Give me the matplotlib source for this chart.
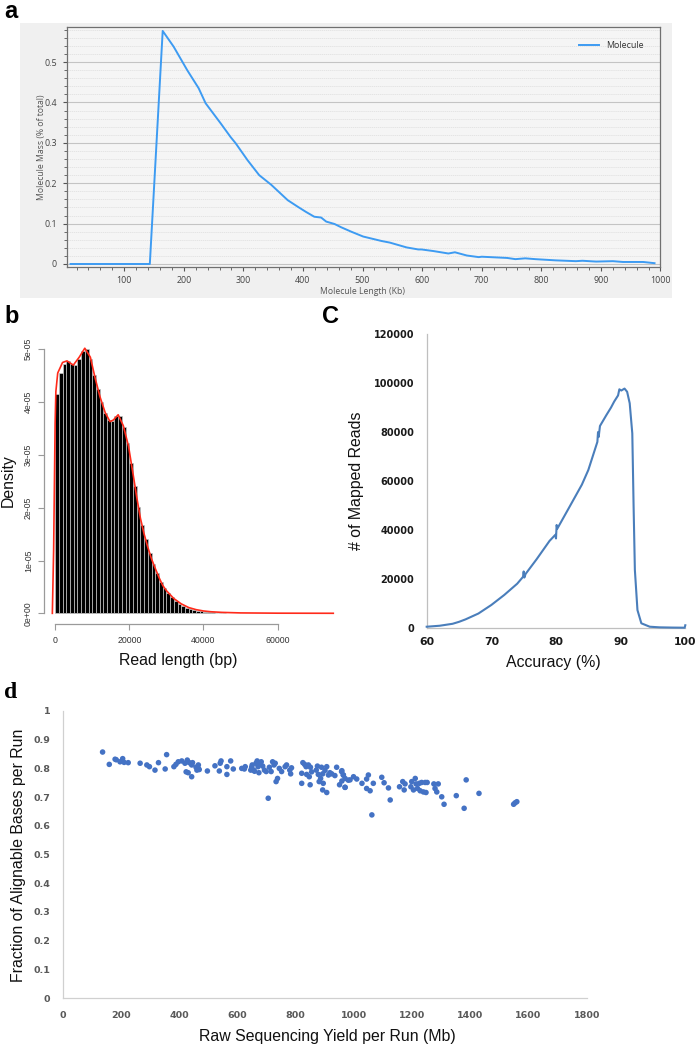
import matplotlib
matplotlib.use('Agg')
import matplotlib.pyplot as plt
import numpy as np
from matplotlib.patches import Rectangle
from matplotlib.ticker import MultipleLocator

plt.rcParams['font.family'] = ['Liberation Sans', 'DejaVu Sans']

# ---------------- data ----------------
# panel a: molecule length (Kb) vs molecule mass (% of total)
mol_len = [10, 60, 100, 143, 164.6, 183, 205.7, 225, 236.6, 262, 278.7, 287, 307, 326.5,
           346.8, 374.4, 391, 405, 419, 430.5, 439, 453, 464, 481, 501, 531.7, 545.7, 574,
           593.5, 599, 619, 644, 655, 675, 695, 700, 742.5, 756.5, 773, 790, 824, 858, 869,
           892, 920, 937, 971, 990]
mol_mass = [0.0, 0.0, 0.0, 0.0, 0.577, 0.538, 0.480, 0.435, 0.398, 0.348, 0.314, 0.299, 0.257,
            0.220, 0.196, 0.158, 0.142, 0.129, 0.117, 0.115, 0.105, 0.099, 0.091, 0.080,
            0.068, 0.057, 0.053, 0.041, 0.036, 0.036, 0.032, 0.026, 0.029, 0.021, 0.017,
            0.018, 0.015, 0.012, 0.014, 0.012, 0.009, 0.007, 0.008, 0.006, 0.007, 0.005,
            0.005, 0.002]

# panel b: read-length histogram (density, 1000 bp bins starting at 0)
bin_width = 1000
hist_density_e5 = [4.15, 4.55, 4.72, 4.77, 4.73, 4.71, 4.82, 4.97, 5.00, 4.82, 4.52, 4.25,
                   4.00, 3.80, 3.66, 3.65, 3.74, 3.74, 3.52, 3.22, 2.85, 2.42, 2.02, 1.68,
                   1.40, 1.15, 0.94, 0.76, 0.60, 0.48, 0.38, 0.30, 0.23, 0.18, 0.14, 0.11,
                   0.085, 0.065, 0.05, 0.04, 0.03, 0.024, 0.019, 0.015, 0.012, 0.010]
kde_x = [-750, -400, 0, 200, 700, 2000, 3200, 4900, 6500, 8000, 9500, 10800, 12100, 13500,
         14800, 15700, 17000, 18400, 19800, 21100, 22000, 23000, 24000, 25000, 26000, 27000,
         28000, 29000, 30000, 32000, 34000, 36000, 38000, 40000, 42000, 45000, 50000, 60000,
         75000]
kde_y_e5 = [0.0, 1.2, 3.6, 4.2, 4.55, 4.75, 4.78, 4.70, 4.85, 5.02, 4.85, 4.45, 4.10, 3.80,
            3.63, 3.66, 3.76, 3.55, 3.16, 2.60, 2.20, 1.80, 1.50, 1.25, 1.03, 0.85, 0.68,
            0.53, 0.43, 0.28, 0.18, 0.11, 0.07, 0.045, 0.03, 0.018, 0.008, 0.003, 0.001]

# panel c: accuracy (%) vs number of mapped reads
accuracy = [60, 62, 64, 65, 66, 68, 70, 72, 74, 74.9, 75.0, 75.1, 75.3, 77, 79, 79.9, 80.0,
            80.1, 80.2, 82, 84, 85, 86.4, 86.5, 86.6, 86.8, 87.8, 88.5, 89.0, 89.6, 89.8,
            90.1, 90.6, 91.0, 91.4, 91.8, 91.9, 92.0, 92.2, 92.6, 93.2, 94.5, 96, 98, 99.9,
            100]
mapped_reads = [400, 800, 1600, 2400, 3400, 5800, 9300, 13400, 18000, 20800, 23000, 20500,
                22000, 28000, 35500, 38000, 36500, 42000, 40500, 49000, 58500, 64500, 76000,
                80000, 78000, 82500, 87000, 90000, 92500, 95000, 97500, 97000, 97800, 96500,
                91800, 79500, 65000, 50000, 23600, 7200, 1800, 400, 150, 50, 0, 1000]

# panel d: raw sequencing yield per run (Mb) vs fraction of alignable bases
yield_mb = [137, 160, 180, 184, 197, 206, 211, 225, 266, 289, 298, 317, 329, 352, 357, 382,
            389, 397, 409, 420, 428, 435, 443, 446, 424, 431, 443, 458, 466, 466, 469, 461,
            497, 523, 541, 544, 538, 564, 564, 577, 586, 615, 624, 627, 646, 649, 651, 656,
            659, 664, 668, 671, 674, 676, 682, 687, 693, 699, 706, 710, 716, 721, 726, 730,
            733, 738, 744, 752, 764, 769, 780, 786, 783, 821, 825, 831, 836, 838, 844, 847,
            851, 855, 821, 850, 871, 875, 878, 881, 886, 889, 893, 895, 901, 893, 907, 907,
            913, 918, 924, 935, 941, 951, 958, 964, 970, 970, 981, 959, 964, 959, 970, 987,
            999, 1010, 1028, 1044, 1050, 1044, 1056, 1062, 1067, 1096, 1104, 1119, 1125,
            1157, 1168, 1173, 1176, 1196, 1199, 1205, 1211, 1214, 1219, 1225, 1228, 1233,
            1239, 1245, 1248, 1252, 1275, 1279, 1285, 1290, 1302, 1310, 1352, 1379, 1386,
            1430, 1549, 1554, 1560]
frac_align = [0.857, 0.814, 0.832, 0.830, 0.823, 0.834, 0.821, 0.820, 0.818, 0.812, 0.806,
              0.794, 0.820, 0.798, 0.848, 0.806, 0.814, 0.823, 0.826, 0.818, 0.829, 0.820,
              0.812, 0.820, 0.788, 0.785, 0.771, 0.804, 0.812, 0.800, 0.796, 0.794, 0.791,
              0.809, 0.818, 0.826, 0.791, 0.806, 0.779, 0.826, 0.798, 0.800, 0.798, 0.806,
              0.794, 0.804, 0.812, 0.794, 0.790, 0.818, 0.826, 0.806, 0.785, 0.818, 0.823,
              0.808, 0.794, 0.789, 0.696, 0.804, 0.789, 0.823, 0.812, 0.818, 0.754, 0.765,
              0.800, 0.789, 0.806, 0.812, 0.794, 0.802, 0.781, 0.783, 0.820, 0.814, 0.806,
              0.779, 0.812, 0.771, 0.804, 0.788, 0.748, 0.743, 0.794, 0.808, 0.779, 0.754,
              0.765, 0.804, 0.781, 0.748, 0.793, 0.725, 0.716, 0.806, 0.777, 0.785, 0.781,
              0.775, 0.804, 0.743, 0.789, 0.777, 0.765, 0.734, 0.759, 0.792, 0.777, 0.756,
              0.734, 0.760, 0.771, 0.763, 0.748, 0.763, 0.777, 0.730, 0.722, 0.638, 0.748,
              0.769, 0.750, 0.732, 0.690, 0.736, 0.754, 0.725, 0.746, 0.736, 0.754, 0.725,
              0.765, 0.746, 0.730, 0.748, 0.722, 0.751, 0.718, 0.751, 0.716, 0.751, 0.746,
              0.730, 0.718, 0.746, 0.701, 0.675, 0.705, 0.661, 0.760, 0.713, 0.675, 0.680,
              0.684]

# ---------------- figure ----------------
W, H = 697, 1044
fig = plt.figure(figsize=(W / 100, H / 100), dpi=100)


def ax_at(l, t, r, b):
    return fig.add_axes([l / W, 1 - b / H, (r - l) / W, (b - t) / H])


# ---- panel a ----
fig.patches.append(Rectangle((20 / W, 1 - 298 / H), 652 / W, 275 / H,
                             transform=fig.transFigure, facecolor='#f0f0f0',
                             edgecolor='none', zorder=-5))
axa = ax_at(66.7, 27.3, 660.5, 266.7)
axa.set_zorder(2)
axa.set_facecolor('#f5f5f5')
axa.plot(mol_len, mol_mass, color='#3d9bf2', lw=1.4, label='Molecule', zorder=3)
axa.xaxis.set_minor_locator(MultipleLocator(20))
axa.yaxis.set_minor_locator(MultipleLocator(0.02))
axa.set_xticks([100, 200, 300, 400, 500, 600, 700, 800, 900, 1000])
axa.set_xticklabels(['100', '200', '300', '400', '500', '600', '700', '800', '900', '1000'])
axa.set_xlim(3.5, 1000)
axa.set_yticks([0, 0.1, 0.2, 0.3, 0.4, 0.5])
axa.set_yticklabels(['0', '0.1', '0.2', '0.3', '0.4', '0.5'])
axa.set_ylim(-0.0067, 0.586)
axa.grid(True, which='major', axis='y', color='#c4c4c4', lw=0.8, zorder=1)
axa.grid(True, which='minor', axis='y', color='#dedede', lw=0.5, ls=(0, (2, 1)), zorder=1)
axa.tick_params(which='both', direction='out', colors='#555555', labelsize=6.4,
                labelcolor='#444444', pad=4)
axa.tick_params(which='major', length=3, width=0.8)
axa.tick_params(which='minor', length=2, width=0.6)
for s in axa.spines.values():
    s.set_color('#707070')
    s.set_linewidth(0.9)
for lab in axa.get_xticklabels() + axa.get_yticklabels():
    lab.set_family(['Open Sans', 'DejaVu Sans'])
axa.legend(loc='upper right', frameon=False, handlelength=2.2,
           prop={'family': ['Open Sans', 'DejaVu Sans'], 'size': 6.4},
           bbox_to_anchor=(0.985, 0.975), labelcolor='#333333')
fig.text(362.5 / W, 1 - 291 / H, 'Molecule Length (Kb)', ha='center', va='center',
         fontsize=6.2, color='#555555', family=['Open Sans', 'DejaVu Sans'])
fig.text(41.7 / W, 1 - 147 / H, 'Molecule Mass (% of total)', ha='center', va='center',
         rotation=90, fontsize=6.2, color='#555555', family=['Open Sans', 'DejaVu Sans'])

# ---- panel b ----
axb = ax_at(44, 338.7, 344.4, 623.9)
bin_left = np.arange(len(hist_density_e5)) * bin_width
axb.bar(bin_left, np.array(hist_density_e5) * 1e-5, width=bin_width, align='edge',
        color='black', edgecolor='#c8c8c8', linewidth=0.5, zorder=2)
axb.plot(kde_x, np.array(kde_y_e5) * 1e-5, color='#ff2a1a', lw=1.2, zorder=3)
axb.set_xlim(-3000, 78000)
axb.set_ylim(-2.0e-6, 5.2e-5)
axb.set_xticks([0, 20000, 40000, 60000])
axb.set_xticklabels(['0', '20000', '40000', '60000'])
axb.set_yticks([0, 1e-5, 2e-5, 3e-5, 4e-5, 5e-5])
axb.set_yticklabels(['0e+00', '1e-05', '2e-05', '3e-05', '4e-05', '5e-05'],
                    rotation=90, va='center')
for sp in ['top', 'right']:
    axb.spines[sp].set_visible(False)
axb.spines['left'].set_bounds(0, 5e-5)
axb.spines['bottom'].set_bounds(0, 60000)
for sp in ['left', 'bottom']:
    axb.spines[sp].set_color('#9a9a9a')
    axb.spines[sp].set_linewidth(0.9)
axb.tick_params(length=4, width=0.8, colors='#9a9a9a', labelcolor='#333333',
                labelsize=6.3, pad=4)
axb.tick_params(axis='x', pad=5)
fig.text(178 / W, 1 - 660 / H, 'Read length (bp)', ha='center', va='center',
         fontsize=11.4, color='#111111')
fig.text(8.5 / W, 1 - 481 / H, 'Density', ha='center', va='center', rotation=90,
         fontsize=11.4, color='#111111')

# ---- panel c ----
axc = ax_at(426.7, 334.3, 685.3, 627.7)
axc.plot(accuracy, mapped_reads, color='#4a7ebb', lw=1.5, clip_on=False, zorder=3)
axc.set_xlim(60, 100)
axc.set_ylim(0, 120000)
axc.set_xticks([60, 70, 80, 90, 100])
axc.set_yticks([0, 20000, 40000, 60000, 80000, 100000, 120000])
for sp in ['top', 'right']:
    axc.spines[sp].set_visible(False)
for sp in ['left', 'bottom']:
    axc.spines[sp].set_color('#bfbfbf')
    axc.spines[sp].set_linewidth(0.9)
axc.tick_params(length=0, labelcolor='#1a1a1a')
axc.tick_params(axis='y', pad=9)
axc.tick_params(axis='x', pad=7)
for lab in axc.get_yticklabels():
    lab.set_family('DejaVu Sans')
    lab.set_weight('bold')
    lab.set_fontsize(7.0)
for lab in axc.get_xticklabels():
    lab.set_family('DejaVu Sans')
    lab.set_weight('bold')
    lab.set_fontsize(7.8)
fig.text(553 / W, 1 - 662 / H, 'Accuracy (%)', ha='center', va='center',
         fontsize=11.4, color='#111111')
fig.text(357 / W, 1 - 481 / H, '# of Mapped Reads', ha='center', va='center',
         rotation=90, fontsize=11.4, color='#111111')

# ---- panel d ----
axd = ax_at(62.7, 711, 586.7, 998)
axd.scatter(yield_mb, frac_align, s=16, color='#4472c4', edgecolors='none', zorder=3)
axd.set_xlim(0, 1800)
axd.set_ylim(0, 1)
axd.set_xticks([0, 200, 400, 600, 800, 1000, 1200, 1400, 1600, 1800])
axd.set_yticks([0, 0.1, 0.2, 0.3, 0.4, 0.5, 0.6, 0.7, 0.8, 0.9, 1.0])
axd.set_yticklabels(['0', '0.1', '0.2', '0.3', '0.4', '0.5', '0.6', '0.7', '0.8', '0.9', '1'])
for sp in ['top', 'right']:
    axd.spines[sp].set_visible(False)
for sp in ['left', 'bottom']:
    axd.spines[sp].set_color('#d0d0d0')
    axd.spines[sp].set_linewidth(0.9)
axd.tick_params(length=0, labelcolor='#595959')
axd.tick_params(axis='y', pad=9)
axd.tick_params(axis='x', pad=9)
for lab in axd.get_xticklabels() + axd.get_yticklabels():
    lab.set_family('DejaVu Sans')
    lab.set_weight('bold')
    lab.set_fontsize(6.8)
fig.text(327 / W, 1 - 1036 / H, 'Raw Sequencing Yield per Run (Mb)', ha='center',
         va='center', fontsize=11.4, color='#111111')
fig.text(19 / W, 1 - 855 / H, 'Fraction of Alignable Bases per Run', ha='center',
         va='center', rotation=90, fontsize=11.4, color='#111111')

# ---- panel letters ----
fig.text(4 / W, 1 - 18.3 / H, 'a', fontsize=17, weight='bold', ha='left', va='baseline')
fig.text(4 / W, 1 - 323.3 / H, 'b', fontsize=17, weight='bold', ha='left', va='baseline')
fig.text(321.7 / W, 1 - 323.3 / H, 'C', fontsize=17, weight='bold', ha='left',
         va='baseline')
fig.text(4 / W, 1 - 698 / H, 'd', fontsize=17, weight='bold', ha='left', va='baseline',
         family=['Liberation Serif', 'DejaVu Serif'])

fig.savefig('out.png', dpi=100)
